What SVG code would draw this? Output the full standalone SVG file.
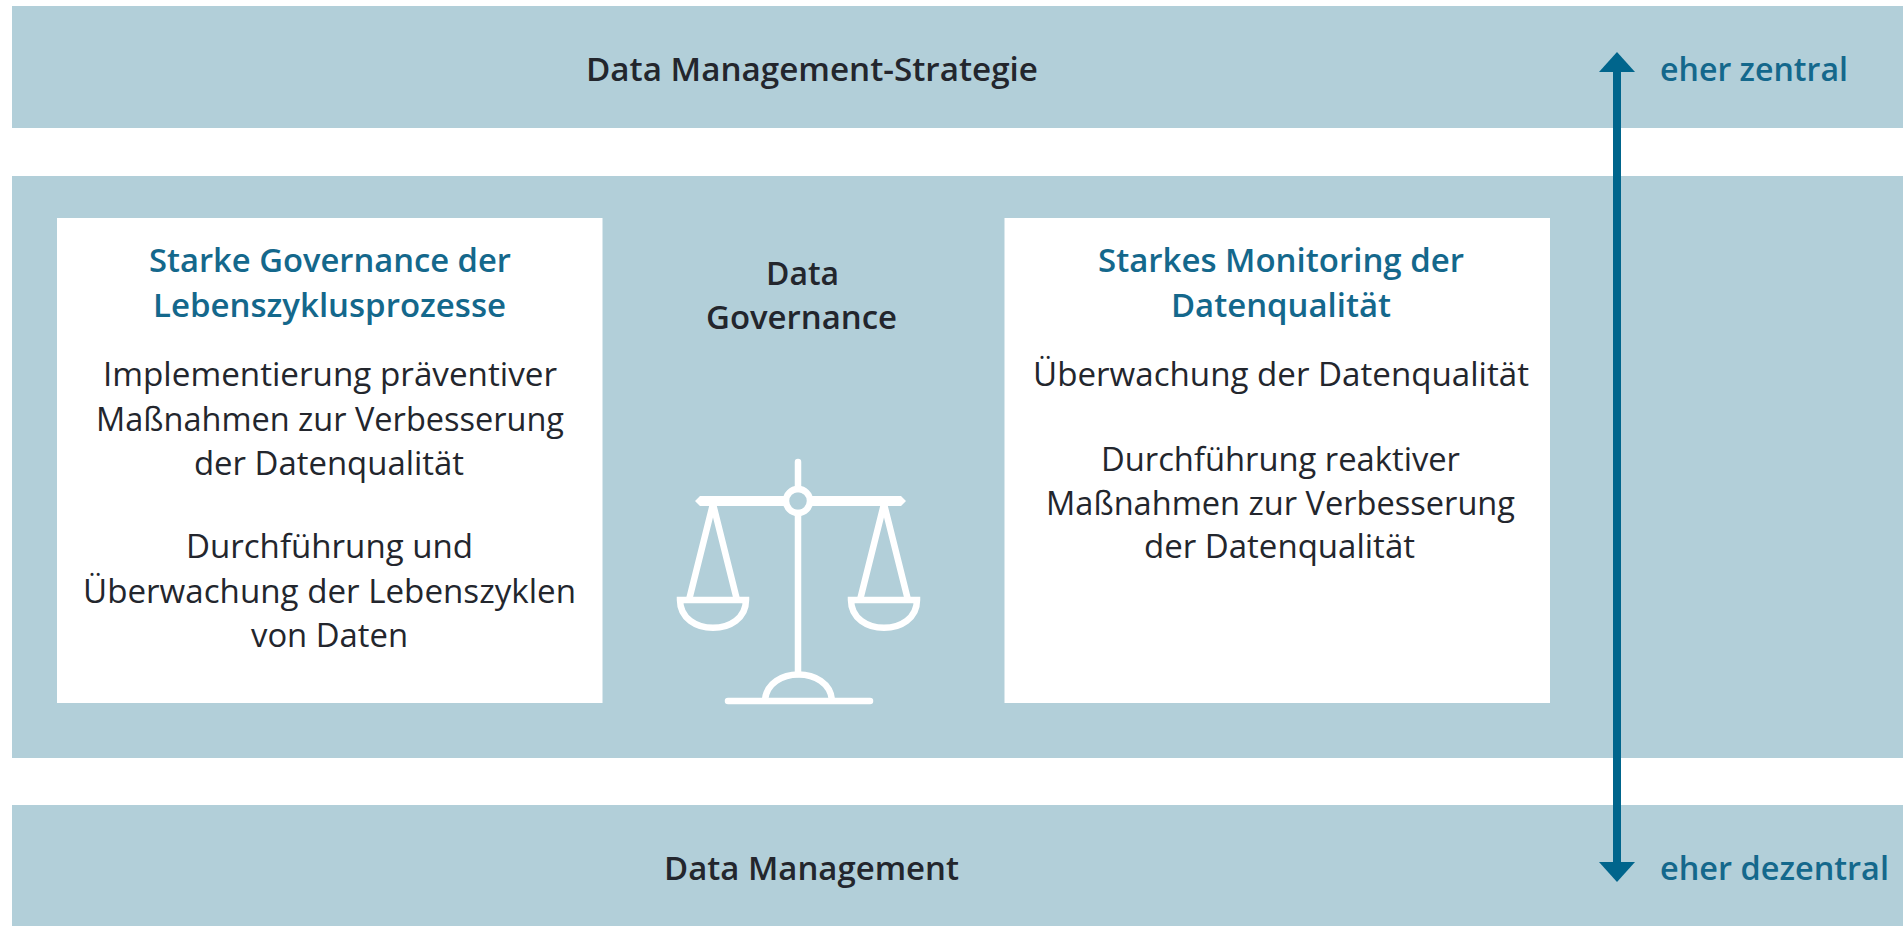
<svg xmlns="http://www.w3.org/2000/svg" width="1903" height="926" viewBox="0 0 1903 926">
<style>
.band{fill:#b2cfd9}
.box{fill:#fff}
text{font-family:"Open Sans","Noto Sans","Liberation Sans",sans-serif}
.t{font-size:33px;fill:#23262d}
.b{font-size:33px;font-weight:600;fill:#23262d}
.h{font-size:33px;font-weight:600;fill:#14688c}
.s{font-size:33px;font-weight:600;fill:#14688c}
.ic{fill:none;stroke:#fff;stroke-width:6.5}
</style>
<defs>
<marker id="head" markerUnits="userSpaceOnUse" markerWidth="20" markerHeight="38" refX="1" refY="19" orient="auto-start-reverse" viewBox="0 0 20 38"><path d="M0 1L20 19L0 37Z" fill="#00658c"/></marker>
</defs>
<rect width="1903" height="926" fill="#fff"/>
<g id="band-strategie"><rect class="band" x="12" y="6" width="1891" height="122"/><text class="b" x="586" y="81" textLength="452" lengthAdjust="spacingAndGlyphs">Data Management-Strategie</text></g>
<g id="band-governance"><rect class="band" x="12" y="176" width="1891" height="582"/></g>
<g id="band-management"><rect class="band" x="12" y="805" width="1891" height="121"/><text class="b" x="664" y="880" textLength="295" lengthAdjust="spacingAndGlyphs">Data Management</text></g>
<g id="box-lebenszyklus"><rect class="box" x="57" y="218" width="545.500" height="485"/>
<text class="h" x="149" y="272" textLength="362" lengthAdjust="spacingAndGlyphs">Starke Governance der</text>
<text class="h" x="153" y="317" textLength="353" lengthAdjust="spacingAndGlyphs">Lebenszyklusprozesse</text>
<text class="t" x="103" y="386" textLength="454" lengthAdjust="spacingAndGlyphs">Implementierung präventiver</text>
<text class="t" x="96" y="431" textLength="468" lengthAdjust="spacingAndGlyphs">Maßnahmen zur Verbesserung</text>
<text class="t" x="194" y="475" textLength="270" lengthAdjust="spacingAndGlyphs">der Datenqualität</text>
<text class="t" x="186" y="558" textLength="287" lengthAdjust="spacingAndGlyphs">Durchführung und</text>
<text class="t" x="83" y="603" textLength="493" lengthAdjust="spacingAndGlyphs">Überwachung der Lebenszyklen</text>
<text class="t" x="251" y="647" textLength="157" lengthAdjust="spacingAndGlyphs">von Daten</text></g>
<g id="box-monitoring"><rect class="box" x="1004.500" y="218" width="545.500" height="485"/>
<text class="h" x="1098" y="272" textLength="366" lengthAdjust="spacingAndGlyphs">Starkes Monitoring der</text>
<text class="h" x="1171" y="317" textLength="220" lengthAdjust="spacingAndGlyphs">Datenqualität</text>
<text class="t" x="1033" y="386" textLength="496" lengthAdjust="spacingAndGlyphs">Überwachung der Datenqualität</text>
<text class="t" x="1101" y="471" textLength="359" lengthAdjust="spacingAndGlyphs">Durchführung reaktiver</text>
<text class="t" x="1046" y="515" textLength="469" lengthAdjust="spacingAndGlyphs">Maßnahmen zur Verbesserung</text>
<text class="t" x="1144" y="558" textLength="271" lengthAdjust="spacingAndGlyphs">der Datenqualität</text></g>
<g id="data-governance">
<text class="b" x="766" y="285" textLength="73" lengthAdjust="spacingAndGlyphs">Data</text>
<text class="b" x="706" y="329" textLength="191" lengthAdjust="spacingAndGlyphs">Governance</text>
<g id="scale-icon">
<path class="ic" stroke-linecap="round" d="M798 462V489M798 513V674"/>
<path d="M695 501l5-5H787v10H700ZM901 496l5 5-5 5H809v-10Z" fill="#fff"/>
<circle class="ic" cx="798" cy="501" r="12"/>
<path class="ic" d="M689 600L713 504L737 600M860 600L884 504L908 600"/>
<path class="ic" d="M680 600H746C746 637 680 637 680 600ZM851 600H917C917 637 851 637 851 600Z"/>
<path class="ic" d="M765 700C768 666 829 666 832 700"/>
<path class="ic" stroke-linecap="round" d="M728 701H870"/>
</g></g>
<g id="connectors"><line x1="1617" y1="71" x2="1617" y2="863" stroke="#00658c" stroke-width="8" marker-start="url(#head)" marker-end="url(#head)"/></g>
<g id="label-zentral"><text class="s" x="1660" y="81" textLength="188" lengthAdjust="spacingAndGlyphs">eher zentral</text></g>
<g id="label-dezentral"><text class="s" x="1660" y="880" textLength="229" lengthAdjust="spacingAndGlyphs">eher dezentral</text></g>
</svg>
